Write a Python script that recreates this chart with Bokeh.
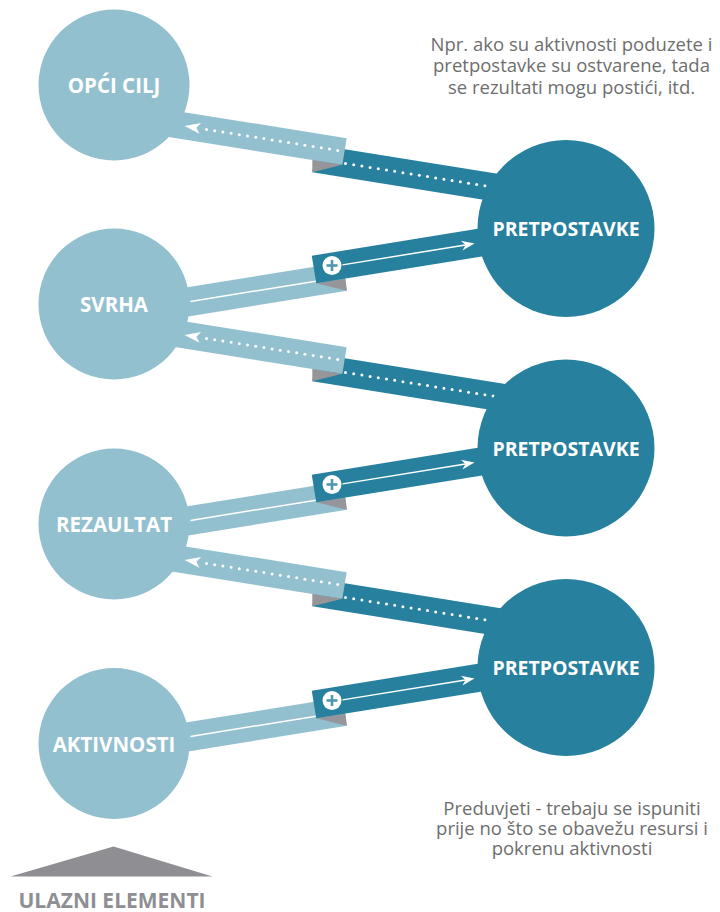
import numpy as np
from bokeh.plotting import figure
from bokeh.models import Range1d
from bokeh.embed import file_html
from bokeh.resources import INLINE
from bokeh.core.properties import value

# ---------------- content ----------------
levels = ["OPĆI CILJ", "SVRHA", "REZAULTAT", "AKTIVNOSTI"]
assumption_labels = ["PRETPOSTAVKE", "PRETPOSTAVKE", "PRETPOSTAVKE"]
note_top = ["Npr. ako su aktivnosti poduzete i",
            "pretpostavke su ostvarene, tada",
            "se rezultati mogu postići, itd."]
note_bottom = ["Preduvjeti - trebaju se ispuniti",
               "prije no što se obavežu resursi i",
               "pokrenu aktivnosti"]
base_label = "ULAZNI ELEMENTI"

# ---------------- layout (page pixel coordinates) ----------------
level_x = [113.5, 113.5, 113.5, 113.5]
level_y = [84.5, 303.5, 523.5, 743.0]
level_r = 75.5
assump_x = [565.5, 565.5, 565.5]
assump_y = [228.0, 447.5, 667.0]
assump_r = 88.5
down_anchor_y = [163.0, 372.0, 597.0]   # dotted (return) ribbons
up_anchor_y = [265.0, 484.0, 700.0]     # "+" (forward) ribbons
note_top_base = [42.7, 64.0, 85.5]
note_bottom_base = [806.5, 826.5, 846.5]
roof_x = [10, 113, 212]
roof_y = [876, 846, 876]

LIGHT = "#93c0cf"
DARK = "#26809e"
GREY = "#96969a"
TXT = "#6e6e6e"
BASE = "#8e8e93"
PLUS = "#4f97b2"

W, H = 720, 912
p = figure(width=W, height=H, x_range=Range1d(0, W), y_range=Range1d(H, 0),
           output_backend="svg", toolbar_location=None, min_border=0,
           x_axis_location=None, y_axis_location=None)
p.grid.visible = False
p.outline_line_color = None
p.background_fill_color = "white"


def unit(slope):
    d = np.array([1.0, slope])
    d /= np.linalg.norm(d)
    n = np.array([-d[1], d[0]])
    return d, n


def rect(x0, y0, x1, slope, w):
    d, n = unit(slope)
    a = np.array([x0, y0])
    b = a + d * ((x1 - x0) / d[0])
    pts = [a - n * w / 2, b - n * w / 2, b + n * w / 2, a + n * w / 2]
    return [q[0] for q in pts], [q[1] for q in pts]


def head(tx, ty, slope, back, half, notch, sign):
    d, n = unit(slope)
    d = d * sign
    t = np.array([tx, ty])
    pts = [t, t - d * back + n * half, t - d * notch, t - d * back - n * half]
    return [q[0] for q in pts], [q[1] for q in pts]


# ---------- return (dotted) ribbons: light circle k -> assumption k ----------
sd = 0.16
dark_xs, dark_ys, light_xs, light_ys, grey_xs, grey_ys = [], [], [], [], [], []
dot_x, dot_y, ah_xs, ah_ys = [], [], [], []
for yd in down_anchor_y:
    d, n = unit(sd)
    dx0 = 314.0
    dy0 = yd + sd * (dx0 - 345)
    xs, ys = rect(dx0, dy0, 545, sd, 28)
    dark_xs.append(xs); dark_ys.append(ys)
    lx1, ly1 = 344.0, yd - 12
    lx0 = 150.0
    ly0 = ly1 + sd * (lx0 - lx1)
    xs, ys = rect(lx0, ly0, lx1, sd, 27)
    light_xs.append(xs); light_ys.append(ys)
    c1 = np.array([dx0, dy0]) + n * 14
    c2 = np.array([lx1, ly1]) + n * 13.5
    c3y = ly1 + sd * (c1[0] - lx1) + 13.5 * n[1]
    grey_xs.append([c1[0], c1[0], c2[0]]); grey_ys.append([c1[1], c3y, c2[1]])
    for x in np.arange(206, 342, 8.2):
        dot_x.append(x); dot_y.append(ly1 + sd * (x - lx1))
    for x in np.arange(345, 540, 8.2):
        dot_x.append(x); dot_y.append(yd + sd * (x - 345))
    tx = 184.0
    ty = ly1 + sd * (tx - lx1)
    xs, ys = head(tx, ty, sd, 16, 5.5, 12, -1)
    ah_xs.append(xs); ah_ys.append(ys)

p.patches(dark_xs, dark_ys, fill_color=DARK, line_color=None)
p.patches(grey_xs, grey_ys, fill_color=GREY, line_color=None)
p.patches(light_xs, light_ys, fill_color=LIGHT, line_color=None)
p.scatter(dot_x, dot_y, marker="circle", size=3, fill_color="white", line_color=None)
p.patches(ah_xs, ah_ys, fill_color="white", line_color=None)

# ---------- forward (+) ribbons: light circle k+1 -> assumption k ----------
su = -0.162
ul_xs, ul_ys, ud_xs, ud_ys, ug_xs, ug_ys = [], [], [], [], [], []
wl_x, wl_y, al_x, al_y, uh_xs, uh_ys = [], [], [], [], [], []
plus_x, plus_y = [], []
for yp in up_anchor_y:
    d, n = unit(su)
    lx1, ly1 = 344.0, yp + 11
    lx0 = 150.0
    ly0 = ly1 + su * (lx0 - lx1)
    xs, ys = rect(lx0, ly0, lx1, su, 29)
    ul_xs.append(xs); ul_ys.append(ys)
    wl_x.append([190, 320]); wl_y.append([ly1 + su * (190 - lx1), ly1 + su * (320 - lx1)])
    dx0, dy0 = 313.5, yp + 4
    xs, ys = rect(dx0, dy0, 545, su, 28)
    ud_xs.append(xs); ud_ys.append(ys)
    c1 = np.array([dx0, dy0]) + n * 14
    c2 = np.array([lx1, ly1]) + n * 14.5
    c3y = c1[1] + su * (345 - c1[0])
    ug_xs.append([c1[0], 345, c2[0]]); ug_ys.append([c1[1], c3y, c2[1]])
    plus_x.append(331.5); plus_y.append(yp)
    al_x.append([342, 468]); al_y.append([dy0 + su * (342 - dx0), dy0 + su * (468 - dx0)])
    tx = 474.0
    ty = dy0 + su * (tx - dx0)
    xs, ys = head(tx, ty, su, 13, 5, 9, 1)
    uh_xs.append(xs); uh_ys.append(ys)

p.patches(ul_xs, ul_ys, fill_color=LIGHT, line_color=None)
p.multi_line(wl_x, wl_y, line_color="white", line_width=1.5)
p.patches(ug_xs, ug_ys, fill_color=GREY, line_color=None)
p.patches(ud_xs, ud_ys, fill_color=DARK, line_color=None)
p.multi_line(al_x, al_y, line_color="white", line_width=1.5)
p.patches(uh_xs, uh_ys, fill_color="white", line_color=None)
p.circle(plus_x, plus_y, radius=9.5, fill_color="white", line_color=None)
p.segment(x0=[x - 5.5 for x in plus_x], y0=plus_y, x1=[x + 5.5 for x in plus_x], y1=plus_y,
          line_color=PLUS, line_width=2.6)
p.segment(x0=plus_x, y0=[y - 5.5 for y in plus_y], x1=plus_x, y1=[y + 5.5 for y in plus_y],
          line_color=PLUS, line_width=2.6)

# ---------- circles ----------
p.circle(level_x, level_y, radius=level_r, fill_color=LIGHT, line_color=None)
p.circle(assump_x, assump_y, radius=assump_r, fill_color=DARK, line_color=None)

p.text(level_x, level_y, text=levels, text_align="center", text_baseline="middle",
       text_color="white", text_font=value("Open Sans"), text_font_style="bold",
       text_font_size="20.5px")
p.text(assump_x, assump_y, text=assumption_labels, text_align="center", text_baseline="middle",
       text_color="white", text_font=value("Open Sans"), text_font_style="bold",
       text_font_size="19.5px")

# ---------- notes ----------
p.text([571] * 3, note_top_base, text=note_top, text_align="center", text_baseline="alphabetic",
       text_color=TXT, text_font=value("Open Sans"), text_font_size="18.5px")
p.text([571.5] * 3, note_bottom_base, text=note_bottom, text_align="center",
       text_baseline="alphabetic", text_color=TXT, text_font=value("Open Sans"),
       text_font_size="18.5px")

# ---------- base ----------
p.patch(roof_x, roof_y, fill_color=BASE, line_color=None)
p.text([111.5], [899], text=[base_label], text_align="center", text_baseline="alphabetic",
       text_color=BASE, text_font=value("Open Sans"), text_font_style="bold",
       text_font_size="21px")

open("out.html", "w").write(file_html(p, INLINE))
